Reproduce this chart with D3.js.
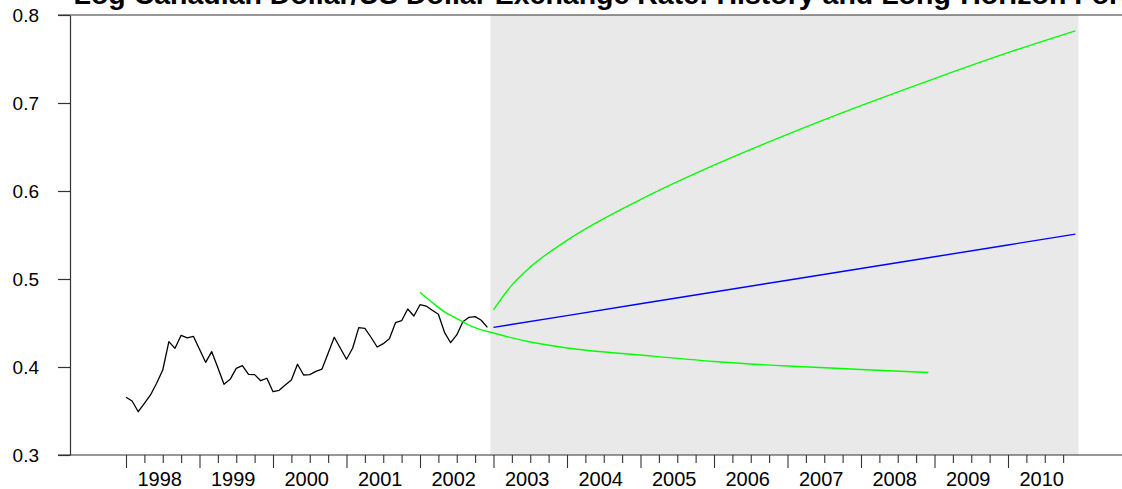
<!DOCTYPE html>
<html><head><meta charset="utf-8">
<script src="https://cdn.jsdelivr.net/npm/d3@7/dist/d3.min.js"></script>
<style>
body{margin:0;background:#fff;}
svg{display:block;font-family:"Liberation Sans",Arial,Helvetica,sans-serif;}
</style>
</head><body>
<svg id="chart" width="1122" height="489"></svg>
<script>
// ---------- data ----------
const titleText = "Log Canadian Dollar/US Dollar Exchange Rate: History and Long-Horizon Forecast";
const yearLabels = ["1998","1999","2000","2001","2002","2003","2004","2005","2006","2007","2008","2009","2010"];
const yTickValues = [0.3, 0.4, 0.5, 0.6, 0.7, 0.8];

// monthly history, 1998-01 .. 2002-12
const historyStart = "1998-01";
const historyValues = [
  0.3656, 0.3614, 0.3492, 0.3587, 0.3682, 0.3815, 0.3966, 0.4288, 0.4212, 0.4360, 0.4330, 0.4349,
  0.4201, 0.4053, 0.4174, 0.3992, 0.3803, 0.3860, 0.3985, 0.4015, 0.3917, 0.3913, 0.3844, 0.3872,
  0.3719, 0.3735, 0.3795, 0.3852, 0.4031, 0.3909, 0.3913, 0.3951, 0.3977, 0.4156, 0.4338, 0.4213,
  0.4088, 0.4213, 0.4447, 0.4440, 0.4338, 0.4227, 0.4265, 0.4322, 0.4503, 0.4526, 0.4659, 0.4580,
  0.4708, 0.4693, 0.4644, 0.4599, 0.4394, 0.4276, 0.4364, 0.4515, 0.4565, 0.4572, 0.4531, 0.4451
];

// shaded forecast period
const forecastPeriod = ["2003-01", "2010-12"];

// point forecast (blue)
const forecastMonths = ["2003-01","2004-01","2005-01","2006-01","2007-01","2008-01","2009-01","2010-01","2010-12"];
const forecastValues = [0.4450, 0.4584, 0.4718, 0.4852, 0.4986, 0.5119, 0.5253, 0.5387, 0.5510];

// upper band (green)
const upperMonths = ["2003-01","2003-04","2003-07","2004-01","2005-01","2006-01","2007-01","2008-01","2009-01","2010-01","2010-12"];
const upperValues = [0.4650, 0.4930, 0.5135, 0.5439, 0.5903, 0.6294, 0.6644, 0.6970, 0.7278, 0.7572, 0.7820];

// lower band (green)
const lowerMonths = ["2002-01","2002-03","2002-05","2002-07","2002-10","2003-01","2003-07","2004-01","2005-01","2006-01","2007-01","2008-01","2008-12"];
const lowerValues = [0.4850, 0.4733, 0.4627, 0.4551, 0.4447, 0.4386, 0.4284, 0.4216, 0.4136, 0.4063, 0.4011, 0.3972, 0.3938];

// ---------- helpers ----------
const monthIndex = s => { const [yy, mm] = s.split("-").map(Number); return (yy - 1998) * 12 + (mm - 1); };
const h0 = monthIndex(historyStart);

// ---------- scales ----------
const x = d3.scaleLinear().domain([0, 156]).range([126, 1081.5]);
const y = d3.scaleLinear().domain([0.3, 0.8]).range([455, 15]);
const xLeft = 58, xRight = 1122, yAxisX = 70;

const svg = d3.select("#chart");

// title (cut off at top as in reference)
svg.append("text")
  .attr("x", 73.5).attr("y", 3.5)
  .attr("font-size", 28.5).attr("font-weight", "bold").attr("fill", "#000")
  .text(titleText);

// shaded forecast region
svg.append("rect")
  .attr("x", x(monthIndex(forecastPeriod[0]) - 0.5))
  .attr("width", x(monthIndex(forecastPeriod[1]) + 0.5) - x(monthIndex(forecastPeriod[0]) - 0.5))
  .attr("y", y(0.8)).attr("height", y(0.3) - y(0.8))
  .attr("fill", "#e9e9e9");

// frame line top
const axisColor = "#333";
svg.append("line").attr("x1", xLeft).attr("x2", xRight).attr("y1", y(0.8)).attr("y2", y(0.8))
  .attr("stroke", axisColor).attr("stroke-width", 1.2);

// y axis
const yAxis = svg.append("g").attr("transform", `translate(${yAxisX},0)`)
  .call(d3.axisLeft(y).tickValues(yTickValues).tickSize(12).tickSizeOuter(0).tickPadding(19)
        .tickFormat(d3.format(".1f")));
yAxis.selectAll("path,line").attr("stroke", axisColor).attr("stroke-width", 1.2);
yAxis.selectAll("text").attr("font-size", 19).attr("font-family", "Liberation Sans, Arial, sans-serif").attr("fill", "#000");

// x axis (quarterly ticks, longer at year starts)
const tickIdx = d3.range(0, 154, 3);
const xAxisG = svg.append("g").attr("transform", `translate(0,${y(0.3)})`);
xAxisG.append("line").attr("x1", xLeft).attr("x2", xRight).attr("y1", 0).attr("y2", 0)
  .attr("stroke", axisColor).attr("stroke-width", 1.2);
const majorAxis = d3.axisBottom(x).tickValues(tickIdx.filter(i => i % 12 === 0)).tickSize(13).tickSizeOuter(0).tickFormat("");
const minorAxis = d3.axisBottom(x).tickValues(tickIdx.filter(i => i % 12 !== 0)).tickSize(8).tickSizeOuter(0).tickFormat("");
const gMaj = xAxisG.append("g").call(majorAxis);
const gMin = xAxisG.append("g").call(minorAxis);
[gMaj, gMin].forEach(g => { g.select(".domain").remove(); g.selectAll("line").attr("stroke", axisColor).attr("stroke-width", 1.1); });

svg.append("g").selectAll("text").data(yearLabels).join("text")
  .attr("x", (d, i) => x(i * 12 + 5.5))
  .attr("y", 486)
  .attr("text-anchor", "middle")
  .attr("font-size", 20).attr("fill", "#000")
  .text(d => d);

// lines
const histData = historyValues.map((v, i) => [h0 + i, v]);
const lineLin = d3.line().x(d => x(d[0])).y(d => y(d[1]));
const lineSmooth = d3.line().x(d => x(d[0])).y(d => y(d[1])).curve(d3.curveMonotoneX);

svg.append("path").datum(histData).attr("d", lineLin)
  .attr("fill", "none").attr("stroke", "#000").attr("stroke-width", 1.3).attr("stroke-linejoin", "round");

svg.append("path").datum(forecastMonths.map((m, i) => [monthIndex(m), forecastValues[i]])).attr("d", lineLin)
  .attr("fill", "none").attr("stroke", "#0000ff").attr("stroke-width", 1.4);

svg.append("path").datum(upperMonths.map((m, i) => [monthIndex(m), upperValues[i]])).attr("d", lineSmooth)
  .attr("fill", "none").attr("stroke", "#00ff00").attr("stroke-width", 1.4);

svg.append("path").datum(lowerMonths.map((m, i) => [monthIndex(m), lowerValues[i]])).attr("d", lineSmooth)
  .attr("fill", "none").attr("stroke", "#00ff00").attr("stroke-width", 1.4);
</script>
</body></html>
